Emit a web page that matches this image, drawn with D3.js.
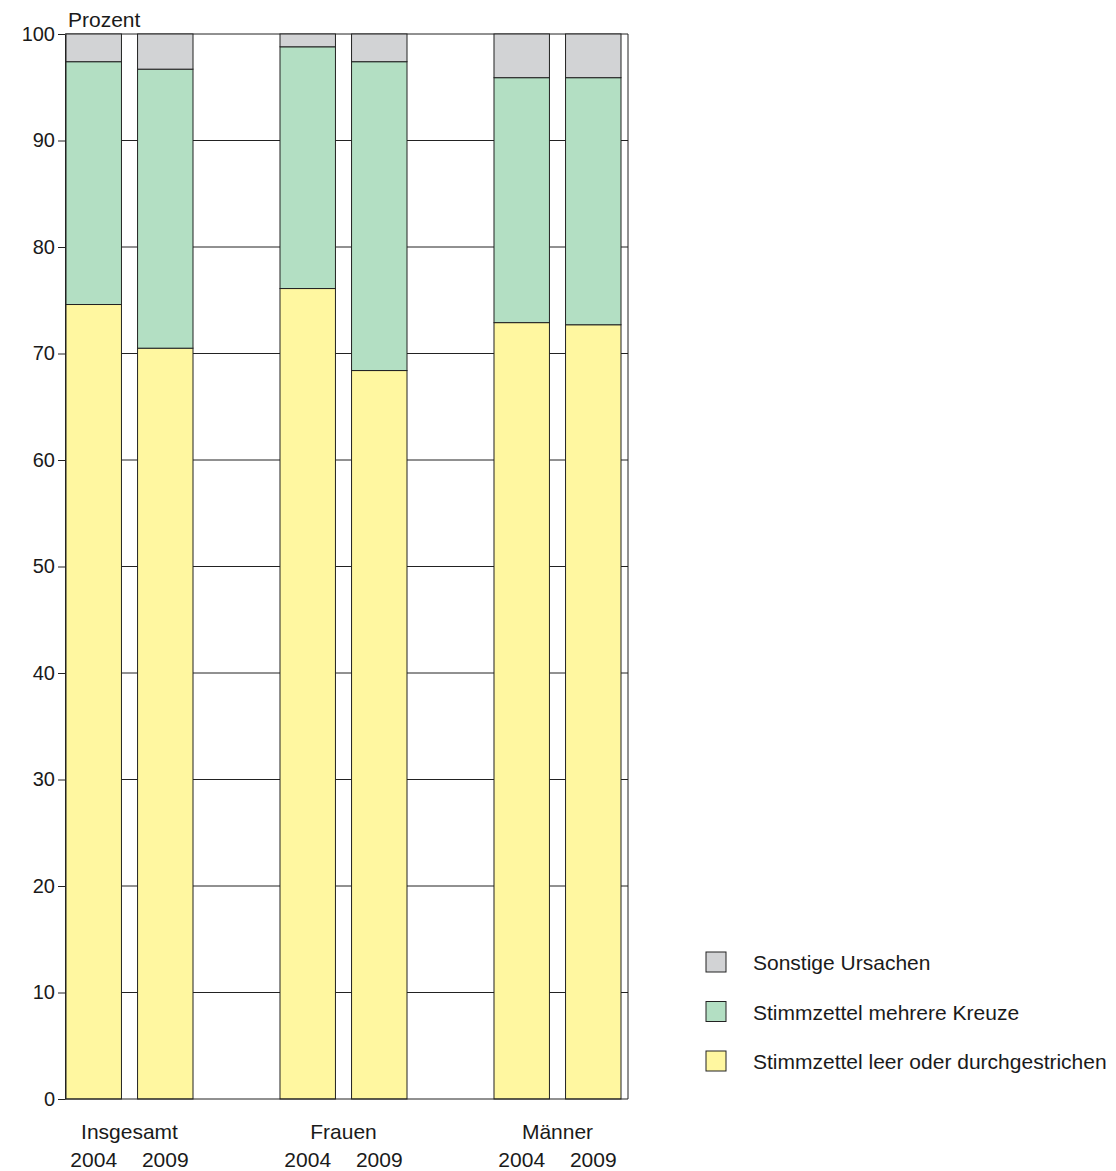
<!DOCTYPE html>
<html><head><meta charset="utf-8">
<script src="https://cdn.jsdelivr.net/npm/d3@7"></script>
<style>body{margin:0;background:#fff}text{font-family:"Liberation Sans",Arial,sans-serif;fill:#1a1a1a}</style>
</head><body>
<script>
// data
var groups = ["Insgesamt", "Frauen", "Männer"];
var years = ["2004", "2009"];
var leer = [74.6, 70.5, 76.1, 68.4, 72.9, 72.7];
var kreuze = [22.8, 26.2, 22.7, 29.0, 23.0, 23.2];
var sonstige = [2.6, 3.3, 1.2, 2.6, 4.1, 4.1];
var seriesNames = ["Stimmzettel leer oder durchgestrichen", "Stimmzettel mehrere Kreuze", "Sonstige Ursachen"];
var colors = ["#fff7a0", "#b3dfc3", "#d2d3d5"];
var yTicks = [0,10,20,30,40,50,60,70,80,90,100];

var W = 1116, H = 1171;
var plotLeft = 65, plotRight = 628, plotTop = 34, plotBottom = 1099;
var svg = d3.select("body").append("svg").attr("width", W).attr("height", H);

var y = d3.scaleLinear().domain([0, 100]).range([plotBottom, plotTop]);
var xGroup = d3.scaleBand().domain(groups).range([66, 621]).paddingInner(0.4065).paddingOuter(0);
var xYear = d3.scaleBand().domain(years).range([0, xGroup.bandwidth()]).paddingInner(0.225);

// grid
svg.append("g").selectAll("line").data(yTicks.slice(1)).enter().append("line")
  .attr("x1", plotLeft).attr("x2", plotRight).attr("y1", d => y(d)).attr("y2", d => y(d))
  .attr("stroke", "#222").attr("stroke-width", 1);

var rows = [];
groups.forEach(function(g, gi) {
  years.forEach(function(yr, yi) {
    var i = gi * 2 + yi;
    var vals = [leer[i], kreuze[i], sonstige[i]], acc = 0;
    vals.forEach(function(v, s) {
      rows.push({g: g, yr: yr, s: s, y0: acc, y1: acc + v});
      acc += v;
    });
  });
});
svg.append("g").selectAll("rect").data(rows).enter().append("rect")
  .attr("x", d => xGroup(d.g) + xYear(d.yr))
  .attr("width", xYear.bandwidth())
  .attr("y", d => y(Math.min(d.y1, 100)))
  .attr("height", d => y(d.y0) - y(Math.min(d.y1, 100)))
  .attr("fill", d => colors[d.s]).attr("stroke", "#222").attr("stroke-width", 1);

// axes
svg.append("g").attr("transform", `translate(${plotLeft},0)`)
  .call(d3.axisLeft(y).tickValues(yTicks).tickSize(7).tickSizeOuter(0))
  .call(g => g.selectAll("text").style("font-size", "20px").attr("fill", "#1a1a1a"))
  .call(g => g.selectAll("line,path").attr("stroke", "#222"));
svg.append("line").attr("x1", plotRight).attr("x2", plotRight).attr("y1", plotTop).attr("y2", plotBottom).attr("stroke", "#222");
svg.append("line").attr("x1", plotLeft).attr("x2", plotRight).attr("y1", plotBottom).attr("y2", plotBottom).attr("stroke", "#222");
svg.append("text").attr("x", 68).attr("y", 27).style("font-size", "21px").text("Prozent");

// category labels
svg.append("g").selectAll("text").data(groups).enter().append("text")
  .attr("x", d => xGroup(d) + xGroup.bandwidth() / 2).attr("y", 1139)
  .attr("text-anchor", "middle").style("font-size", "21px").text(d => d);
groups.forEach(function(g) {
  svg.append("g").selectAll("text").data(years).enter().append("text")
    .attr("x", d => xGroup(g) + xYear(d) + xYear.bandwidth() / 2).attr("y", 1167)
    .attr("text-anchor", "middle").style("font-size", "21px").text(d => d);
});

// legend
var leg = [2, 1, 0];
leg.forEach(function(s, i) {
  var ly = 952 + i * 49.5;
  svg.append("rect").attr("x", 706).attr("y", ly).attr("width", 20).attr("height", 20)
    .attr("fill", colors[s]).attr("stroke", "#222");
  svg.append("text").attr("x", 753).attr("y", ly + 18).style("font-size", "21px").text(seriesNames[s]);
});
</script>
</body></html>
